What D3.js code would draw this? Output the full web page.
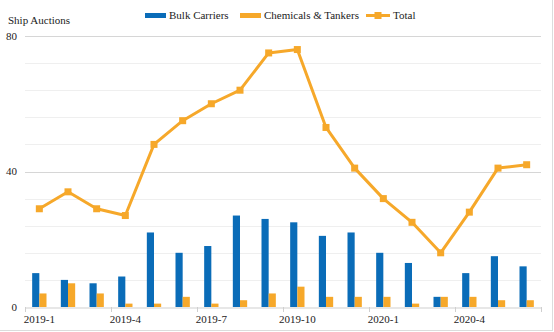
<!DOCTYPE html>
<html><head><meta charset="utf-8">
<script src="https://cdn.jsdelivr.net/npm/d3@7"></script>
<style>html,body{margin:0;padding:0;background:#fff;}svg{display:block;}
svg text{font-family:"Liberation Serif","Times New Roman",serif;}</style>
</head><body>
<svg id="c" width="554" height="332"></svg>
<script>
const months = ["2019-1","2019-2","2019-3","2019-4","2019-5","2019-6","2019-7","2019-8","2019-9","2019-10","2019-11","2019-12","2020-1","2020-2","2020-3","2020-4","2020-5","2020-6"];
const bulkCarriers = [10,8,7,9,22,16,18,27,26,25,21,22,16,13,3,10,15,12];
const chemicalsTankers = [4,7,4,1,1,3,1,2,4,6,3,3,3,1,3,3,2,2];
const total = [29,34,29,27,48,55,60,64,75,76,53,41,32,25,16,28,41,42];
const yTickLabels = [0,40,80];
const seriesNames = ["Bulk Carriers","Chemicals & Tankers","Total"];

const BLUE = "#0a6cb8", ORANGE = "#f6a82a";
const svg = d3.select("#c");
const L = 25, R = 541, T = 36, B = 307;

const x = d3.scaleBand().domain(months).range([L, R]).padding(0);
const y = d3.scaleLinear().domain([0, 80]).range([B, T]);
const bw = x.bandwidth() * 0.25;

// frame (right / bottom)
svg.append("line").attr("x1", 552.5).attr("x2", 552.5).attr("y1", 0).attr("y2", 331).attr("stroke", "#dcdcdc");
svg.append("line").attr("x1", 0).attr("x2", 553).attr("y1", 330.5).attr("y2", 330.5).attr("stroke", "#dcdcdc");

// grid
const gridVals = d3.range(8, 81, 8);
svg.append("g").selectAll("line").data(gridVals).join("line")
  .attr("x1", L).attr("x2", R)
  .attr("y1", d => Math.round(y(d)) + 0.5).attr("y2", d => Math.round(y(d)) + 0.5)
  .attr("stroke", d => (d % 40 === 0) ? "#d6d6d6" : "#efefef");

// y labels
svg.append("g").selectAll("text").data(yTickLabels).join("text")
  .attr("x", 17).attr("y", d => y(d)).attr("dy", "0.35em")
  .attr("text-anchor", "end").attr("font-size", 11).attr("fill", "#222")
  .text(d => d);

// x axis
const xAxis = d3.axisBottom(x).tickSize(0).tickFormat((d, i) => i % 3 === 0 ? d : "");
const gx = svg.append("g").attr("transform", `translate(0,${B + 0.5})`).call(xAxis);
gx.attr("font-family", null);
gx.select(".domain").attr("stroke", "#cfcfcf");
gx.selectAll("text").attr("font-size", 11).attr("fill", "#222").attr("dy", "1.15em");
const tickIdx = months.map((m, i) => i).filter(i => i % 3 === 0).concat([months.length]);
svg.append("g").selectAll("line").data(tickIdx).join("line")
  .attr("x1", i => Math.round(i < months.length ? x(months[i]) : R) + 0.5)
  .attr("x2", i => Math.round(i < months.length ? x(months[i]) : R) + 0.5)
  .attr("y1", B).attr("y2", B + 5).attr("stroke", "#cfcfcf");

// bars
svg.append("g").selectAll("rect").data(bulkCarriers).join("rect")
  .attr("x", (d, i) => x(months[i]) + x.bandwidth() / 2 - bw)
  .attr("width", bw)
  .attr("y", d => y(d)).attr("height", d => B - y(d))
  .attr("fill", BLUE);
svg.append("g").selectAll("rect").data(chemicalsTankers).join("rect")
  .attr("x", (d, i) => x(months[i]) + x.bandwidth() / 2)
  .attr("width", bw)
  .attr("y", d => y(d)).attr("height", d => B - y(d))
  .attr("fill", ORANGE);

// line
const line = d3.line().x((d, i) => x(months[i]) + x.bandwidth() / 2).y(d => y(d));
svg.append("path").datum(total).attr("d", line).attr("fill", "none")
  .attr("stroke", ORANGE).attr("stroke-width", 3).attr("stroke-linejoin", "round");
svg.append("g").selectAll("rect").data(total).join("rect")
  .attr("x", (d, i) => x(months[i]) + x.bandwidth() / 2 - 3.5)
  .attr("y", d => y(d) - 3.5).attr("width", 7).attr("height", 7)
  .attr("fill", ORANGE);

// title
svg.append("text").attr("x", 8).attr("y", 24).attr("font-size", 11).attr("fill", "#222").text("Ship Auctions");

// legend
const lg = svg.append("g").attr("font-size", 11).attr("fill", "#222");
const ly = 15.5;
lg.append("rect").attr("x", 145).attr("y", ly - 2.5).attr("width", 21).attr("height", 5).attr("fill", BLUE);
lg.append("text").attr("x", 169).attr("y", ly).attr("dy", "0.35em").text(seriesNames[0]);
lg.append("rect").attr("x", 240).attr("y", ly - 2.5).attr("width", 21).attr("height", 5).attr("fill", ORANGE);
lg.append("text").attr("x", 264).attr("y", ly).attr("dy", "0.35em").text(seriesNames[1]);
lg.append("line").attr("x1", 366).attr("x2", 390).attr("y1", ly).attr("y2", ly).attr("stroke", ORANGE).attr("stroke-width", 3);
lg.append("rect").attr("x", 374.5).attr("y", ly - 3.5).attr("width", 7).attr("height", 7).attr("fill", ORANGE);
lg.append("text").attr("x", 393).attr("y", ly).attr("dy", "0.35em").text(seriesNames[2]);
</script>
</body></html>
